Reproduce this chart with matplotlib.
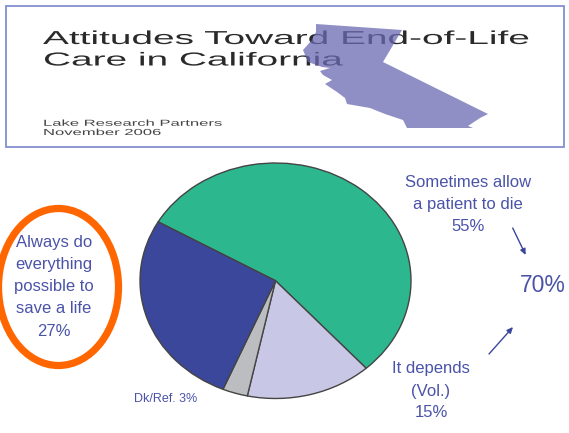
import matplotlib
matplotlib.use("Agg")
import matplotlib.pyplot as plt
from matplotlib.patches import Ellipse, Polygon, Rectangle
from matplotlib.patheffects import AbstractPathEffect
from matplotlib.transforms import Affine2D

# Chart data
categories = ["Sometimes allow a patient to die", "It depends (Vol.)", "Dk/Ref.", "Always do everything possible to save a life"]
values = [55, 15, 3, 27]
slice_colors = ["#2DB78F", "#C9C7E6", "#BBBDC0", "#3B479B"]

# Text
title_lines = ["Attitudes Toward End-of-Life", "Care in California"]
credit_lines = ["Lake Research Partners", "November 2006"]
label_sometimes = ["Sometimes allow", "a patient to die", "55%"]
label_depends = ["It depends", "(Vol.)", "15%"]
label_always = ["Always do", "everything", "possible to", "save a life", "27%"]
label_dk = "Dk/Ref. 3%"
label_total = "70%"

# California outline, in pixels of the picture
california_x = [316, 402, 383, 488, 480, 468, 473, 407, 403, 385, 370, 347, 345, 337, 325, 332, 323, 320, 330, 322, 308, 303, 312, 316]
california_y = [24, 30, 62, 114, 118, 126, 128, 128, 120, 114, 108, 104, 98, 92, 84, 80, 75, 71, 68, 67, 62, 50, 40, 32]

W, H = 569, 433
BODY = "#4A53A8"
plt.rcParams["font.family"] = ["Liberation Sans", "DejaVu Sans"]


class StretchX(AbstractPathEffect):
    """Widens a text horizontally about its left edge, as in the stretched slide title."""
    def __init__(self, x0, k):
        super().__init__()
        self.x0, self.k = x0, k

    def draw_path(self, renderer, gc, tpath, affine, rgbFace=None):
        extra = Affine2D().translate(-self.x0, 0).scale(self.k, 1).translate(self.x0, 0)
        renderer.draw_path(gc, tpath, affine + extra, rgbFace)


fig = plt.figure(figsize=(W / 100, H / 100), dpi=100, facecolor="white")
bg = fig.add_axes([0, 0, 1, 1])
bg.set_xlim(0, W)
bg.set_ylim(H, 0)
bg.axis("off")


def stacked(lines, cx, ys, size):
    for line, y in zip(lines, ys):
        bg.text(cx, y, line, ha="center", va="center", fontsize=size, color=BODY, zorder=5)


# Slide thumbnail
bg.add_patch(Rectangle((6, 5.5), 558, 141.5, fill=False, ec="#8390D0", lw=1.3, zorder=1))
for line, y in zip(title_lines, [39.5, 61]):
    t = bg.text(43, y, line, ha="left", va="center", fontsize=13.5, color="#2A2A2A", zorder=2)
    t.set_path_effects([StretchX(43, 2.07)])
for line, y in zip(credit_lines, [123.3, 132.5]):
    t = bg.text(43, y, line, ha="left", va="center", fontsize=6.3, color="#444444", zorder=2)
    t.set_path_effects([StretchX(43, 1.9)])
bg.add_patch(Polygon(list(zip(california_x, california_y)), closed=True, fc="#6B6AB2", ec="none", alpha=0.75, zorder=3))

# Pie
pie_ax = fig.add_axes([140 / W, 1 - 398.5 / H, 271 / W, 235.5 / H])
pie_ax.pie(values, colors=slice_colors, startangle=150, counterclock=False, radius=1,
           wedgeprops=dict(edgecolor="#444444", linewidth=1.0, clip_on=False))
pie_ax.set_aspect("auto")
pie_ax.set_xlim(-1, 1)
pie_ax.set_ylim(-1, 1)
pie_ax.patch.set_visible(False)

# Annotation layer above the pie
top = fig.add_axes([0, 0, 1, 1])
top.set_xlim(0, W)
top.set_ylim(H, 0)
top.axis("off")
bg = top
bg.add_patch(Ellipse((58.5, 287), 120, 157, fill=False, ec="#FF6600", lw=5.2, zorder=4))
stacked(label_always, 54, [242.7, 265, 286.7, 308.3, 331], 12)
stacked(label_sometimes, 468, [182.7, 204.3, 226.7], 12)
stacked(label_depends, 431, [369, 391.7, 412.7], 12)
stacked([label_total], 543, [286], 16.5)
stacked([label_dk], 166, [399], 9)
for start, end in [((512.7, 228), (525.7, 255)), ((489, 354), (513, 327))]:
    bg.annotate("", xy=end, xytext=start,
                arrowprops=dict(arrowstyle="-|>,head_length=0.35,head_width=0.16", color="#3B479B", lw=1.0,
                                shrinkA=0, shrinkB=0))

fig.savefig("out.png", dpi=100)
